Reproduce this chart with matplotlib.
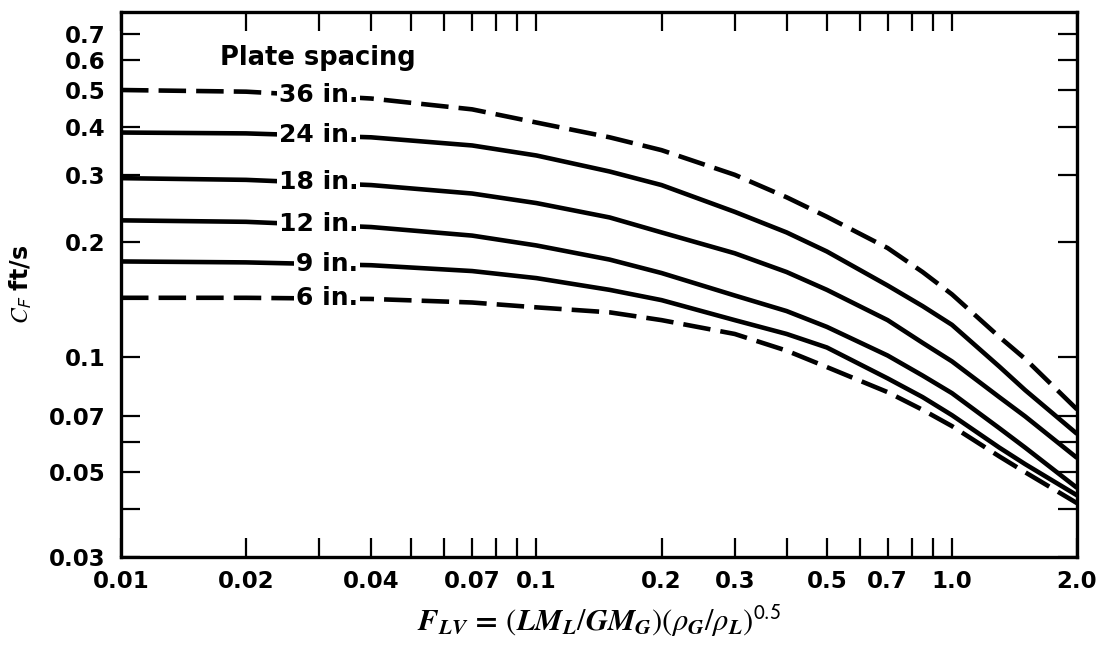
# -*- coding: utf-8 -*-
"""Flooding capacity vs flow parameter for sieve-tray columns"""

import numpy as np
import matplotlib
matplotlib.use("Agg")
import matplotlib.pyplot as plt

# Data
FLV = [0.01, 0.02, 0.04, 0.07, 0.1, 0.15, 0.2, 0.3, 0.4, 0.5, 0.7, 0.85, 1.0, 1.3, 1.5, 2.0]

CF_36 = [0.500, 0.495, 0.475, 0.445, 0.411, 0.376, 0.348, 0.300, 0.262, 0.233, 0.193, 0.167, 0.146, 0.113, 0.099, 0.073]
CF_24 = [0.387, 0.385, 0.376, 0.358, 0.337, 0.306, 0.282, 0.240, 0.212, 0.189, 0.154, 0.136, 0.1215, 0.0945, 0.082, 0.063]
CF_18 = [0.294, 0.291, 0.282, 0.268, 0.253, 0.232, 0.212, 0.187, 0.167, 0.150, 0.125, 0.109, 0.0975, 0.0786, 0.070, 0.0545]
CF_12 = [0.228, 0.226, 0.219, 0.208, 0.196, 0.180, 0.166, 0.145, 0.132, 0.120, 0.101, 0.0895, 0.0805, 0.0652, 0.058, 0.0455]
CF_9 = [0.178, 0.177, 0.174, 0.168, 0.161, 0.150, 0.141, 0.125, 0.115, 0.106, 0.088, 0.0786, 0.0705, 0.058, 0.0525, 0.0435]
CF_6 = [0.143, 0.143, 0.142, 0.139, 0.135, 0.131, 0.125, 0.115, 0.104, 0.0942, 0.081, 0.0728, 0.066, 0.055, 0.050, 0.0415]

SPACINGS = ["36 in.", "24 in.", "18 in.", "12 in.", "9 in.", "6 in."]
CURVES = [CF_36, CF_24, CF_18, CF_12, CF_9, CF_6]
DASHED = [True, False, False, False, False, True]

X_LABELED = [0.01, 0.02, 0.04, 0.07, 0.1, 0.2, 0.3, 0.5, 0.7, 1.0, 2.0]
X_LABELS = ["0.01", "0.02", "0.04", "0.07", "0.1", "0.2", "0.3", "0.5", "0.7", "1.0", "2.0"]
X_MINOR = [0.03, 0.05, 0.06, 0.08, 0.09, 0.4, 0.6, 0.8, 0.9]
Y_LABELED = [0.03, 0.05, 0.07, 0.1, 0.2, 0.3, 0.4, 0.5, 0.6, 0.7]
Y_LABELS = ["0.03", "0.05", "0.07", "0.1", "0.2", "0.3", "0.4", "0.5", "0.6", "0.7"]
Y_MINOR = [0.04, 0.06]

LABEL_X = 0.0372   # right edge of the curve labels

plt.rcParams["font.family"] = ["DejaVu Sans"]
plt.rcParams["mathtext.fontset"] = "stix"


def main():
    fig = plt.figure(figsize=(11.05, 6.48), dpi=100)
    ax = fig.add_axes([0.1095, 0.1404, 0.8652, 0.8411])
    ax.set_xscale("log")
    ax.set_yscale("log")
    ax.set_xlim(0.01, 2.0)
    ax.set_ylim(0.03, 0.8)

    for name, vals, dashed in zip(SPACINGS, CURVES, DASHED):
        line, = ax.plot(FLV, vals, color="black", lw=3.3, solid_capstyle="butt",
                        solid_joinstyle="round")
        if dashed:
            line.set_dashes((6, 2.2))
        # label sits on the curve, masking it
        ly = 10 ** np.interp(np.log10(0.028), np.log10(FLV), np.log10(vals))
        ax.text(LABEL_X, ly, name, ha="right", va="center", fontsize=18,
                fontweight="bold", zorder=5,
                bbox=dict(facecolor="white", edgecolor="none", pad=1.5))

    ax.text(0.0297, 0.605, "Plate spacing", ha="center", va="center",
            fontsize=18.5, fontweight="bold")

    # ticks
    ax.set_xticks(X_LABELED)
    ax.set_xticklabels(X_LABELS)
    ax.set_xticks(X_MINOR, minor=True)
    ax.set_xticklabels([], minor=True)
    ax.set_yticks(Y_LABELED)
    ax.set_yticklabels(Y_LABELS)
    ax.set_yticks(Y_MINOR, minor=True)
    ax.set_yticklabels([], minor=True)
    ax.tick_params(which="both", direction="in", length=14, width=1.6,
                   top=True, right=True, labelsize=16.5)
    ax.tick_params(axis="x", pad=9)
    ax.tick_params(axis="y", pad=11)
    for lab in ax.get_xticklabels() + ax.get_yticklabels():
        lab.set_fontweight("bold")

    for sp in ax.spines.values():
        sp.set_linewidth(2.4)

    ax.set_ylabel(r"$C_{\mathsf{F}}$ ft/s", fontsize=17, fontweight="bold")
    ax.yaxis.set_label_coords(-0.091, 0.5)
    ax.set_xlabel(r"$\mathbfit{F}_{\mathbfit{LV}}\mathbf{\,=\,}(\mathbfit{LM}_{\mathbfit{L}}"
                  r"/\mathbfit{GM}_{\mathbfit{G}})(\rho_{\mathbfit{G}}/\rho_{\mathbfit{L}})"
                  r"^{\mathsf{0.5}}$", fontsize=22)
    ax.xaxis.set_label_coords(0.5, -0.084)

    fig.savefig("out.png", dpi=100)


if __name__ == "__main__":
    main()
